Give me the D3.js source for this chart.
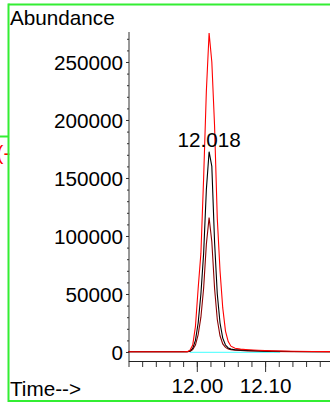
<!DOCTYPE html>
<html><head><meta charset="utf-8">
<script src="https://cdn.jsdelivr.net/npm/d3@7"></script>
<style>html,body{margin:0;padding:0;background:#fff;overflow:hidden}svg{display:block}text{font-family:"Liberation Sans",Arial,sans-serif}</style>
</head><body>
<script>
// ---- data ----
const times = [11.900, 11.950, 11.980, 11.986, 11.990, 11.994, 11.998, 12.002, 12.006, 12.010, 12.014, 12.018, 12.022, 12.026, 12.030, 12.034, 12.038, 12.042, 12.046, 12.050, 12.056, 12.064, 12.075, 12.090, 12.110, 12.140, 12.170, 12.200];
const redValues    = [250, 250, 250, 300, 1500, 6000, 22000, 55000, 85000, 150000, 225000, 275000, 250000, 195000, 115000, 70000, 38000, 18000, 9000, 5000, 3200, 2500, 2000, 1500, 1000, 600, 400, 300];
const blackValues  = [250, 250, 250, 250, 800, 3000, 10000, 25000, 50000, 85000, 140000, 172700, 160000, 95000, 50000, 25000, 12000, 6000, 3500, 2500, 2000, 1800, 1400, 1000, 700, 400, 300, 250];
const maroonValues = [250, 250, 250, 250, 500, 2000, 6000, 15000, 30000, 55000, 93000, 116000, 95000, 55000, 28000, 14000, 7000, 4000, 2500, 2000, 1500, 1300, 1000, 800, 500, 300, 250, 250];
const cyanTimes = [11.990, 12.122];
const cyanValues = [-400, -400];
const yTicks = [0, 50000, 100000, 150000, 200000, 250000];
const xTicks = [12.00, 12.10];
const peakLabel = {time: 12.018, value: 172700, text: "12.018"};

const W = 330, H = 402;
const svg = d3.select("body").append("svg").attr("width", W).attr("height", H);
const FS = "20.7px";

const x = d3.scaleLinear().domain([11.9, 12.2]).range([128.5, 333.4]);
const y = d3.scaleLinear().domain([-7760, 275860]).range([361, 32]);

// y axis
const gy = svg.append("g").attr("transform", "translate(129,0)")
  .call(d3.axisLeft(y).tickValues(d3.range(0, 275001, 10000)).tickSize(2).tickFormat(""));
gy.select(".domain").remove();
const gy2 = svg.append("g").attr("transform", "translate(129,0)")
  .call(d3.axisLeft(y).tickValues(yTicks).tickSize(3).tickPadding(3).tickFormat(d3.format("d")));
gy2.select(".domain").remove();
gy2.selectAll("text").style("font-size", FS).attr("fill", "#000").attr("dy", "0.35em");
svg.append("line").attr("x1", 129).attr("x2", 129).attr("y1", 32).attr("y2", 361.5).attr("stroke", "#333");

// x axis
const gxm = svg.append("g").attr("transform", "translate(0,361)")
  .call(d3.axisBottom(x).tickValues(d3.range(0, 15).map(i => 11.90 + i * 0.02)).tickSize(6).tickFormat(""));
gxm.select(".domain").remove();
const gx = svg.append("g").attr("transform", "translate(0,361)")
  .call(d3.axisBottom(x).tickValues(xTicks).tickSize(11).tickPadding(6).tickFormat(d3.format(".2f")));
gx.select(".domain").remove();
gx.selectAll("text").style("font-size", FS).attr("fill", "#000").attr("dy", "0.71em");
svg.selectAll("g .tick line").attr("stroke", "#333");
svg.append("line").attr("x1", 129).attr("x2", 330).attr("y1", 361.5).attr("y2", 361.5).attr("stroke", "#222");

// traces
const line = d3.line().x(d => x(d[0])).y(d => y(d[1]));
svg.append("path").datum(cyanTimes.map((t, i) => [t, cyanValues[i]]))
  .attr("d", line).attr("fill", "none").attr("stroke", "#66ffff").attr("stroke-width", 1.3);
const series = [
  {vals: maroonValues, color: "#8b0000"},
  {vals: blackValues, color: "#000"},
  {vals: redValues, color: "#ff0000"}
];
series.forEach(s => {
  svg.append("path").datum(times.map((t, i) => [t, s.vals[i]]))
    .attr("d", line).attr("fill", "none").attr("stroke", s.color).attr("stroke-width", 1.1);
});

// peak label
svg.append("text").attr("x", x(peakLabel.time)).attr("y", y(peakLabel.value) - 4.5)
  .attr("text-anchor", "middle").style("font-size", FS).text(peakLabel.text);

// titles
svg.append("text").attr("x", 10).attr("y", 25).style("font-size", FS).text("Abundance");
svg.append("text").attr("x", 10).attr("y", 396).style("font-size", FS).text("Time-->");

// left red text, partly outside the page as in the reference
svg.append("text").attr("x", -3.5).attr("y", 160).attr("fill", "#ff0000").style("font-size", FS).text("(-");

// green frame
const green = "#33ee33";
svg.append("line").attr("x1", 8.5).attr("x2", 330).attr("y1", 4.5).attr("y2", 4.5).attr("stroke", green).attr("stroke-width", 2);
svg.append("line").attr("x1", 8.5).attr("x2", 8.5).attr("y1", 3.5).attr("y2", 402).attr("stroke", green).attr("stroke-width", 2);
svg.append("line").attr("x1", 8.5).attr("x2", 330).attr("y1", 401).attr("y2", 401).attr("stroke", green).attr("stroke-width", 2);
svg.append("line").attr("x1", 0).attr("x2", 8).attr("y1", 136.5).attr("y2", 136.5).attr("stroke", green).attr("stroke-width", 2);
</script>
</body></html>
